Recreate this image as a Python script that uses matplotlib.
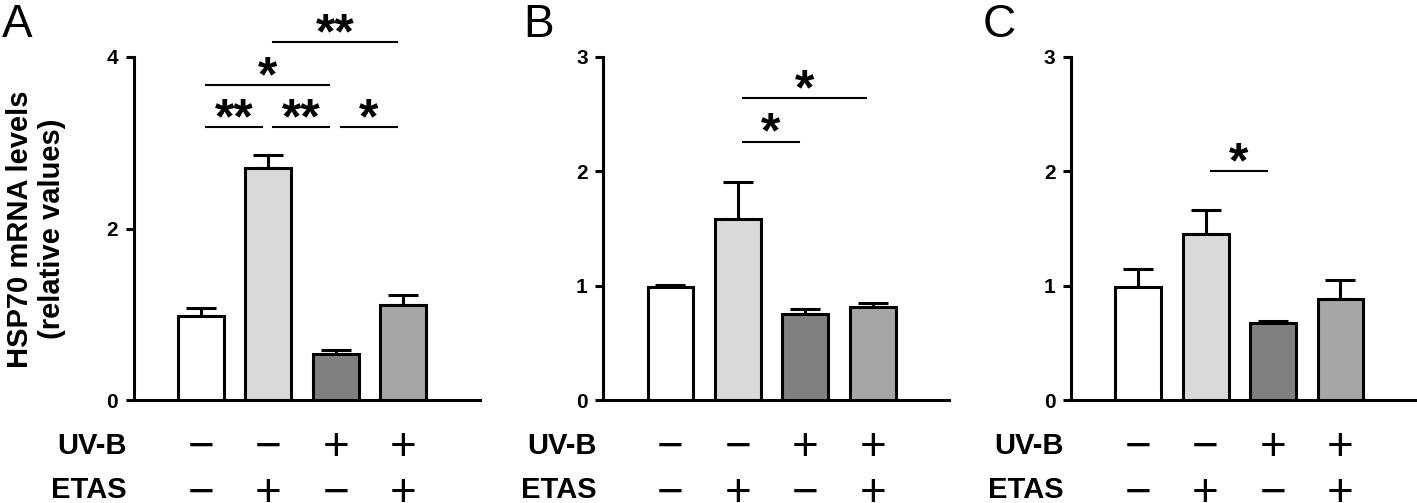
import matplotlib
matplotlib.use("Agg")
import matplotlib.pyplot as plt
import matplotlib.transforms as mtransforms
import numpy as np

plt.rcParams['font.family'] = ['Liberation Sans', 'DejaVu Sans']

# ---- data ----
panels = ["A", "B", "C"]
uvb = ["\u2212", "\u2212", "+", "+"]
etas = ["\u2212", "+", "\u2212", "+"]

vals_A = [0.98, 2.70, 0.54, 1.11]
err_A = [0.09, 0.16, 0.04, 0.11]
vals_B = [0.985, 1.58, 0.75, 0.81]
err_B = [0.02, 0.33, 0.05, 0.035]
vals_C = [0.985, 1.45, 0.67, 0.88]
err_C = [0.165, 0.21, 0.02, 0.17]

yticks_A = [0, 2, 4]
yticks_B = [0, 1, 2, 3]
yticks_C = [0, 1, 2, 3]

sig_A = [(0, 1, 3.18, "**"), (1, 2, 3.18, "**"), (2, 3, 3.18, "*"),
         (0, 2, 3.67, "*"), (1, 3, 4.17, "**")]
sig_B = [(1, 2, 2.26, "*"), (1, 3, 2.64, "*")]
sig_C = [(1, 2, 2.00, "*")]

bar_colors = ["#ffffff", "#d9d9d9", "#808080", "#a6a6a6"]

W, H = 1417, 503
fig = plt.figure(figsize=(W / 100, H / 100), dpi=100)

lefts = [133.5, 603, 1070.7]
ax_w = 346
ax_bot, ax_top = 400, 57

data = [(vals_A, err_A, yticks_A, sig_A),
        (vals_B, err_B, yticks_B, sig_B),
        (vals_C, err_C, yticks_C, sig_C)]

LW = 2.2
for k, (vals, errs, yt, sigs) in enumerate(data):
    ax = fig.add_axes([lefts[k] / W, (H - ax_bot) / H, ax_w / W, (ax_bot - ax_top) / H])
    x = np.arange(len(vals))
    ax.bar(x, vals, width=0.68, color=bar_colors, edgecolor="black", linewidth=LW, zorder=3)
    ax.errorbar(x, vals, yerr=[np.zeros(len(vals)), errs], fmt="none", ecolor="black",
                elinewidth=LW, capsize=11, capthick=LW, zorder=2)
    ax.set_xlim(-1.0, 4.13)
    ax.set_ylim(0, yt[-1])
    ax.set_yticks(yt)
    ax.set_yticklabels([str(t) for t in yt], fontsize=15, fontweight="bold")
    ax.set_xticks([])
    for s in ["top", "right"]:
        ax.spines[s].set_visible(False)
    for s in ["left", "bottom"]:
        ax.spines[s].set_linewidth(LW)
    ax.tick_params(axis="y", length=6, width=LW, pad=5)
    ax.patch.set_alpha(0)

    # significance
    for i, j, y, lab in sigs:
        ax.plot([i + 0.075, j - 0.095], [y, y], color="black", lw=1.5, clip_on=False, zorder=4)
        ax.annotate(lab, xy=((i + j) / 2 - 0.01, y), xytext=(0, -6), textcoords="offset pixels",
                    ha="center", va="baseline", fontsize=36, fontweight="bold",
                    annotation_clip=False)

    # condition rows
    trans = mtransforms.blended_transform_factory(ax.transData, ax.transAxes)
    row_px = [443.5, 490]
    lab_base = [453.5, 498]
    for r, (name, signs) in enumerate([("UV-B", uvb), ("ETAS", etas)]):
        yc = row_px[r]
        yb_lab = (ax_bot - lab_base[r]) / (ax_bot - ax_top)
        ax.text(-1.1, yb_lab, name, transform=trans, ha="right", va="baseline",
                fontsize=21, fontweight="bold", clip_on=False)
        yb_sign = (ax_bot - (yc + 16)) / (ax_bot - ax_top)
        for xi, sg in enumerate(signs):
            ax.text(xi, yb_sign, sg, transform=trans, ha="center", va="baseline",
                    fontsize=33, clip_on=False)

# panel letters
for letter, xl in zip(panels, [2, 523, 983]):
    fig.text(xl / W, 1 - 37 / H, letter, ha="left", va="baseline", fontsize=33)

fig.text(36 / W, (H - 229) / H, "HSP70 mRNA levels\n(relative values)", rotation=90,
         ha="center", va="center", fontsize=21, fontweight="bold", linespacing=1.2,
         multialignment="center")

fig.savefig("out.png", dpi=100)
